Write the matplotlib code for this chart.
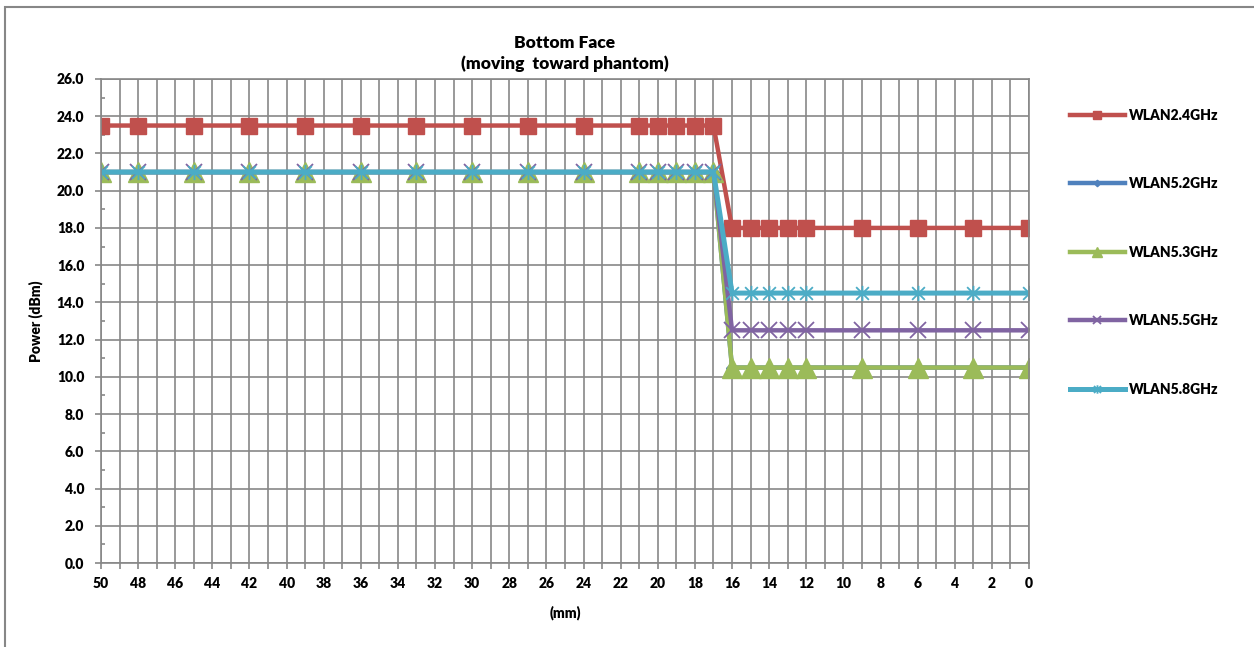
import numpy as np
import matplotlib.pyplot as plt
from matplotlib.path import Path
from matplotlib.patches import Rectangle
from matplotlib.ticker import MultipleLocator

plt.rcParams['font.family'] = ['Lato', 'DejaVu Sans']
plt.rcParams['font.weight'] = 'heavy'

# distance to phantom (mm) and conducted power (dBm)
dist = [50, 48, 45, 42, 39, 36, 33, 30, 27, 24, 21, 20, 19, 18, 17,
        16, 15, 14, 13, 12, 9, 6, 3, 0]
wlan24 = [23.5]*15 + [18.0]*9
wlan52 = [21.0]*15 + [10.5]*9
wlan53 = [21.0]*15 + [10.5]*9
wlan55 = [21.0]*15 + [12.5]*9
wlan58 = [21.0]*15 + [14.5]*9

labels = ['WLAN2.4GHz', 'WLAN5.2GHz', 'WLAN5.3GHz', 'WLAN5.5GHz', 'WLAN5.8GHz']
colors = ['#C0504D', '#4F81BD', '#9BBB59', '#8064A2', '#4BACC6']

# asterisk marker: an x plus a vertical bar
star = Path([(-1, -1), (1, 1), (-1, 1), (1, -1), (0, -1.2), (0, 1.2)],
            [Path.MOVETO, Path.LINETO, Path.MOVETO, Path.LINETO, Path.MOVETO, Path.LINETO])

fig = plt.figure(figsize=(12.54, 6.47), dpi=100)
ax = fig.add_axes([0.0805, 0.1298, 0.7401, 0.7481])

gc = '#878787'
ax.plot(dist, wlan24, color=colors[0], lw=3.2, marker='s', ms=11, label=labels[0])
ax.plot(dist, wlan52, color=colors[1], lw=3.2, marker='D', ms=6, label=labels[1])
ax.plot(dist, wlan53, color=colors[2], lw=3.2, marker='^', ms=14, label=labels[2])
ax.plot(dist, wlan55, color=colors[3], lw=3.2, marker='x', ms=11, mew=1.3, label=labels[3])
ax.plot(dist, wlan58, color=colors[4], lw=3.6, marker=star, ms=11, mew=1.3,
        mfc='none', label=labels[4])

ax.set_xlim(50, 0)
ax.set_ylim(0, 26)
ax.xaxis.set_major_locator(MultipleLocator(2))
ax.xaxis.set_minor_locator(MultipleLocator(1))
ax.yaxis.set_major_locator(MultipleLocator(2))
ax.yaxis.set_minor_locator(MultipleLocator(1))
ax.yaxis.set_major_formatter('{x:.1f}')

ax.grid(True, which='major', axis='y', color=gc, lw=1.2)
ax.grid(True, which='both', axis='x', color=gc, lw=1.2)
ax.set_axisbelow(True)
for s in ax.spines.values():
    s.set_color(gc)
    s.set_linewidth(1.2)

ax.tick_params(axis='both', which='both', color=gc, width=1.2, labelsize=10)
ax.tick_params(axis='y', which='major', length=4, direction='out', pad=8)
ax.tick_params(axis='y', which='minor', length=3, direction='in')
ax.tick_params(axis='x', which='both', length=4, direction='out', pad=6)

ax.set_title('Bottom Face\n(moving  toward phantom)', fontsize=12.5, fontweight='heavy',
             pad=7, linespacing=1.35)
ax.set_ylabel('Power (dBm)', fontsize=10, fontweight='heavy', labelpad=10)
ax.set_xlabel('(mm)', fontsize=10, fontweight='heavy', labelpad=11)

fig.legend(loc='upper left', bbox_to_anchor=(1064/1254, 1 - 103/647), frameon=False,
           fontsize=10, labelspacing=4.0, handlelength=4.0, handletextpad=0.3,
           markerscale=0.55, borderaxespad=0)

# outer chart border (top and left visible)
fig.patches.append(Rectangle((5/1254, -0.1), 1.2, 1 - 7/647 + 0.1, transform=fig.transFigure,
                             fill=False, edgecolor=gc, lw=1.5))

fig.savefig('out.png', dpi=100)
